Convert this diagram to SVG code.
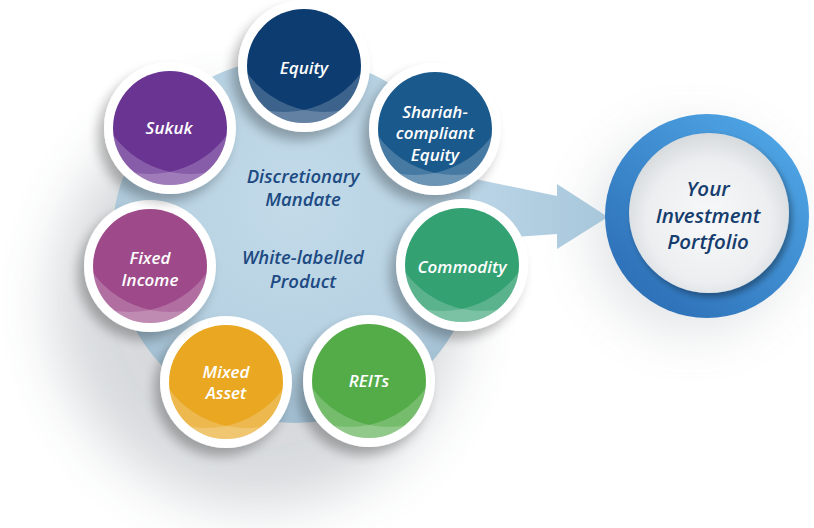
<svg xmlns="http://www.w3.org/2000/svg" width="814" height="528" viewBox="0 0 814 528">
  <defs>
    <style>
      .lbl { font-family: "Open Sans", "Liberation Sans", sans-serif; font-style: italic; font-weight: 600; font-size: 17px; fill: #ffffff; text-anchor: middle; }
      .mid { font-family: "Open Sans", "Liberation Sans", sans-serif; font-style: italic; font-weight: 600; font-size: 18.5px; fill: #1d4a82; text-anchor: middle; }
      .port { font-family: "Open Sans", "Liberation Sans", sans-serif; font-style: italic; font-weight: 600; font-size: 20.5px; fill: #163d6d; text-anchor: middle; }
      .ring { fill: #ffffff; filter: url(#sh); }
      .ov { fill: #ffffff; fill-opacity: 0.2; fill-rule: evenodd; }
    </style>
    <filter id="sh" x="-50%" y="-50%" width="200%" height="200%">
      <feGaussianBlur in="SourceAlpha" stdDeviation="6"/>
      <feOffset dx="-6" dy="8" result="o"/>
      <feComponentTransfer><feFuncA type="linear" slope="0.28"/></feComponentTransfer>
      <feMerge><feMergeNode/><feMergeNode in="SourceGraphic"/></feMerge>
    </filter>
    <filter id="bigblur" x="-50%" y="-50%" width="200%" height="200%">
      <feGaussianBlur stdDeviation="28"/>
    </filter>
    <filter id="inner" x="-20%" y="-20%" width="140%" height="140%">
      <feGaussianBlur in="SourceAlpha" stdDeviation="3"/>
      <feOffset dx="3" dy="4"/>
      <feComponentTransfer><feFuncA type="linear" slope="0.35"/></feComponentTransfer>
      <feMerge><feMergeNode/><feMergeNode in="SourceGraphic"/></feMerge>
    </filter>
    <radialGradient id="bigG" cx="0.5" cy="0.4" r="0.6">
      <stop offset="0" stop-color="#c3dbe9"/>
      <stop offset="0.7" stop-color="#b6d1e2"/>
      <stop offset="1" stop-color="#a0bdd0"/>
    </radialGradient>
    <linearGradient id="arrG" x1="0" y1="0" x2="1" y2="0">
      <stop offset="0" stop-color="#bad5e6"/>
      <stop offset="1" stop-color="#a8c7db"/>
    </linearGradient>
    <linearGradient id="ringG" x1="0.85" y1="0.1" x2="0.15" y2="0.9">
      <stop offset="0" stop-color="#4ea4e4"/>
      <stop offset="1" stop-color="#2d70b7"/>
    </linearGradient>
    <radialGradient id="innG" cx="0.5" cy="0.55" r="0.55">
      <stop offset="0" stop-color="#f8f9fa"/>
      <stop offset="0.7" stop-color="#eceef0"/>
      <stop offset="1" stop-color="#d6dadd"/>
    </radialGradient>
    <clipPath id="cc"><circle cx="0" cy="0" r="57"/></clipPath>
  </defs>

  <!-- soft background shadows -->
  <circle cx="258" cy="302" r="205" fill="#5a6670" opacity="0.24" filter="url(#bigblur)"/>
  <circle cx="692" cy="232" r="100" fill="#5a6670" opacity="0.18" filter="url(#bigblur)"/>

  <!-- big light-blue circle -->
  <circle cx="295" cy="240" r="183" fill="url(#bigG)"/>

  <g id="connectors">
    <polygon points="470,178 557,196 557,184 608,217 557,249 557,234 470,240" fill="url(#arrG)"/>
  </g>

  <g id="centre-text">
    <text class="mid" x="303" y="183">Discretionary</text>
    <text class="mid" x="303" y="206">Mandate</text>
    <text class="mid" x="303" y="264">White-labelled</text>
    <text class="mid" x="303" y="288">Product</text>
  </g>

  <g id="equity" transform="translate(304,66)">
    <circle class="ring" r="66"/>
    <circle r="57" fill="#0c3c70"/>
    <g clip-path="url(#cc)">
      <path class="ov" d="M-60-60H60V60H-60Z M-75,-49a95,95 0 1,0 190,0a95,95 0 1,0 -190,0Z"/>
      <path class="ov" d="M-60-60H60V60H-60Z M-115,-49a95,95 0 1,0 190,0a95,95 0 1,0 -190,0Z"/>
    </g>
    <text class="lbl" x="0" y="8">Equity</text>
  </g>

  <g id="shariah" transform="translate(435,129)">
    <circle class="ring" r="66"/>
    <circle r="57" fill="#1a598c"/>
    <g clip-path="url(#cc)">
      <path class="ov" d="M-60-60H60V60H-60Z M-75,-49a95,95 0 1,0 190,0a95,95 0 1,0 -190,0Z"/>
      <path class="ov" d="M-60-60H60V60H-60Z M-115,-49a95,95 0 1,0 190,0a95,95 0 1,0 -190,0Z"/>
    </g>
    <text class="lbl" x="0" y="-11.5">Shariah-</text>
    <text class="lbl" x="0" y="10">compliant</text>
    <text class="lbl" x="0" y="31.5">Equity</text>
  </g>

  <g id="commodity" transform="translate(462,265)">
    <circle class="ring" r="66"/>
    <circle r="57" fill="#33a172"/>
    <g clip-path="url(#cc)">
      <path class="ov" d="M-60-60H60V60H-60Z M-75,-49a95,95 0 1,0 190,0a95,95 0 1,0 -190,0Z"/>
      <path class="ov" d="M-60-60H60V60H-60Z M-115,-49a95,95 0 1,0 190,0a95,95 0 1,0 -190,0Z"/>
    </g>
    <text class="lbl" x="0" y="8">Commodity</text>
  </g>

  <g id="reits" transform="translate(369,381)">
    <circle class="ring" r="66"/>
    <circle r="57" fill="#54ac49"/>
    <g clip-path="url(#cc)">
      <path class="ov" d="M-60-60H60V60H-60Z M-75,-49a95,95 0 1,0 190,0a95,95 0 1,0 -190,0Z"/>
      <path class="ov" d="M-60-60H60V60H-60Z M-115,-49a95,95 0 1,0 190,0a95,95 0 1,0 -190,0Z"/>
    </g>
    <text class="lbl" x="0" y="6">REITs</text>
  </g>

  <g id="mixed-asset" transform="translate(226,382)">
    <circle class="ring" r="66"/>
    <circle r="57" fill="#e9a722"/>
    <g clip-path="url(#cc)">
      <path class="ov" d="M-60-60H60V60H-60Z M-75,-49a95,95 0 1,0 190,0a95,95 0 1,0 -190,0Z"/>
      <path class="ov" d="M-60-60H60V60H-60Z M-115,-49a95,95 0 1,0 190,0a95,95 0 1,0 -190,0Z"/>
    </g>
    <text class="lbl" x="0" y="-4.5">Mixed</text>
    <text class="lbl" x="0" y="17">Asset</text>
  </g>

  <g id="fixed-income" transform="translate(150,266)">
    <circle class="ring" r="66"/>
    <circle r="57" fill="#9e4a8a"/>
    <g clip-path="url(#cc)">
      <path class="ov" d="M-60-60H60V60H-60Z M-75,-49a95,95 0 1,0 190,0a95,95 0 1,0 -190,0Z"/>
      <path class="ov" d="M-60-60H60V60H-60Z M-115,-49a95,95 0 1,0 190,0a95,95 0 1,0 -190,0Z"/>
    </g>
    <text class="lbl" x="0" y="-2">Fixed</text>
    <text class="lbl" x="0" y="20">Income</text>
  </g>

  <g id="sukuk" transform="translate(170,128)">
    <circle class="ring" r="66"/>
    <circle r="57" fill="#6a3493"/>
    <g clip-path="url(#cc)">
      <path class="ov" d="M-60-60H60V60H-60Z M-75,-49a95,95 0 1,0 190,0a95,95 0 1,0 -190,0Z"/>
      <path class="ov" d="M-60-60H60V60H-60Z M-115,-49a95,95 0 1,0 190,0a95,95 0 1,0 -190,0Z"/>
    </g>
    <text class="lbl" x="-1" y="6">Sukuk</text>
  </g>

  <g id="portfolio">
    <circle cx="707" cy="216" r="102" fill="url(#ringG)"/>
    <circle cx="709" cy="213" r="80" fill="url(#innG)" filter="url(#inner)"/>
    <text class="port" x="708" y="196">Your</text>
    <text class="port" x="708" y="222.5">Investment</text>
    <text class="port" x="708" y="249">Portfolio</text>
  </g>
</svg>
